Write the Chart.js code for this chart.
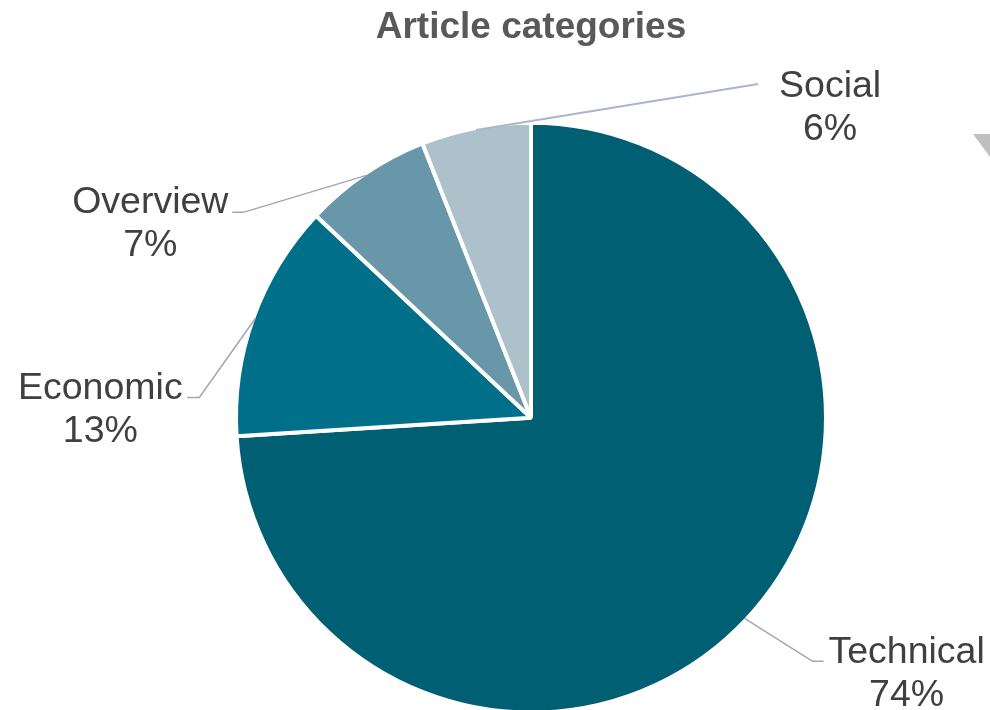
<!DOCTYPE html>
<html>
<head>
<meta charset="utf-8">
<title>Article categories</title>
<script src="https://cdn.jsdelivr.net/npm/chart.js@4/dist/chart.umd.min.js"></script>
<style>
  html, body { margin: 0; padding: 0; background: #fff; overflow: hidden; }
  #wrap { position: relative; width: 990px; height: 716px; }
</style>
</head>
<body>
<div id="wrap"><canvas id="categoryChart"></canvas></div>
<script>
// share of articles per category (%)
var categories = ['Technical', 'Economic', 'Overview', 'Social'];
var shares = [74, 13, 7, 6];
var sliceColors = ['#005f73', '#00708a', '#6797a9', '#adc1cb'];

// where each callout sits, relative to the edge of its slice
var callouts = [
  { elbow: [68, 43], end: [79, 43], text: [162, 56], line: '#a6a6a6' },
  { elbow: [-56, 79], end: [-68, 79], text: [-155, 92], line: '#a6a6a6' },
  { elbow: [-123, 37], end: [-134, 37], text: [-216, 49], line: '#a6a6a6' },
  { elbow: [282, -46], end: [282, -46], text: [354, -22], line: '#a9b6d0' }
];

var calloutPlugin = {
  id: 'callouts',
  afterDraw: function(chart) {
    var ctx = chart.ctx;
    var meta = chart.getDatasetMeta(0);
    var total = shares.reduce(function(a, b) { return a + b; }, 0);

    ctx.save();
    meta.data.forEach(function(arc, i) {
      var p = arc.getProps(['x', 'y', 'startAngle', 'endAngle', 'outerRadius'], true);
      var mid = (p.startAngle + p.endAngle) / 2;
      var r = p.outerRadius - 2;
      var sx = p.x + Math.cos(mid) * r;
      var sy = p.y + Math.sin(mid) * r;
      var c = callouts[i];

      ctx.strokeStyle = c.line;
      ctx.lineWidth = i == 3 ? 2 : 1.5;
      ctx.beginPath();
      ctx.moveTo(sx, sy);
      ctx.lineTo(sx + c.elbow[0], sy + c.elbow[1]);
      ctx.lineTo(sx + c.end[0], sy + c.end[1]);
      ctx.stroke();

      var pct = Math.round(shares[i] / total * 100) + '%';
      var tx = sx + c.text[0];
      var ty = sy + c.text[1];
      ctx.fillStyle = '#404040';
      ctx.font = '37.5px "Liberation Sans", Arial, sans-serif';
      ctx.textAlign = 'center';
      ctx.textBaseline = 'middle';
      ctx.fillText(categories[i], tx, ty - 21.5);
      ctx.fillText(pct, tx, ty + 21.5);
    });

    // bit of a neighbouring shape poking in at the right edge
    ctx.fillStyle = '#c0c0c0';
    ctx.beginPath();
    ctx.moveTo(973, 134);
    ctx.lineTo(990, 134);
    ctx.lineTo(990, 157);
    ctx.closePath();
    ctx.fill();
    ctx.restore();
  }
};

var ctx = document.getElementById('categoryChart').getContext('2d');
var chart = new Chart(ctx, {
  type: 'pie',
  data: {
    labels: categories,
    datasets: [{
      data: shares,
      backgroundColor: sliceColors,
      borderColor: '#ffffff',
      borderWidth: 4
    }]
  },
  options: {
    responsive: true,
    maintainAspectRatio: false,
    animation: false,
    layout: {
      padding: { left: 234, right: 162, top: 0, bottom: 1 }
    },
    plugins: {
      legend: { display: false },
      tooltip: { enabled: false },
      title: {
        display: true,
        text: 'Article categories',
        color: '#595959',
        font: { family: '"Liberation Sans", Arial, sans-serif', size: 37, weight: 'bold' },
        padding: { top: 6, bottom: 70 }
      }
    }
  },
  plugins: [calloutPlugin]
});
</script>
</body>
</html>
